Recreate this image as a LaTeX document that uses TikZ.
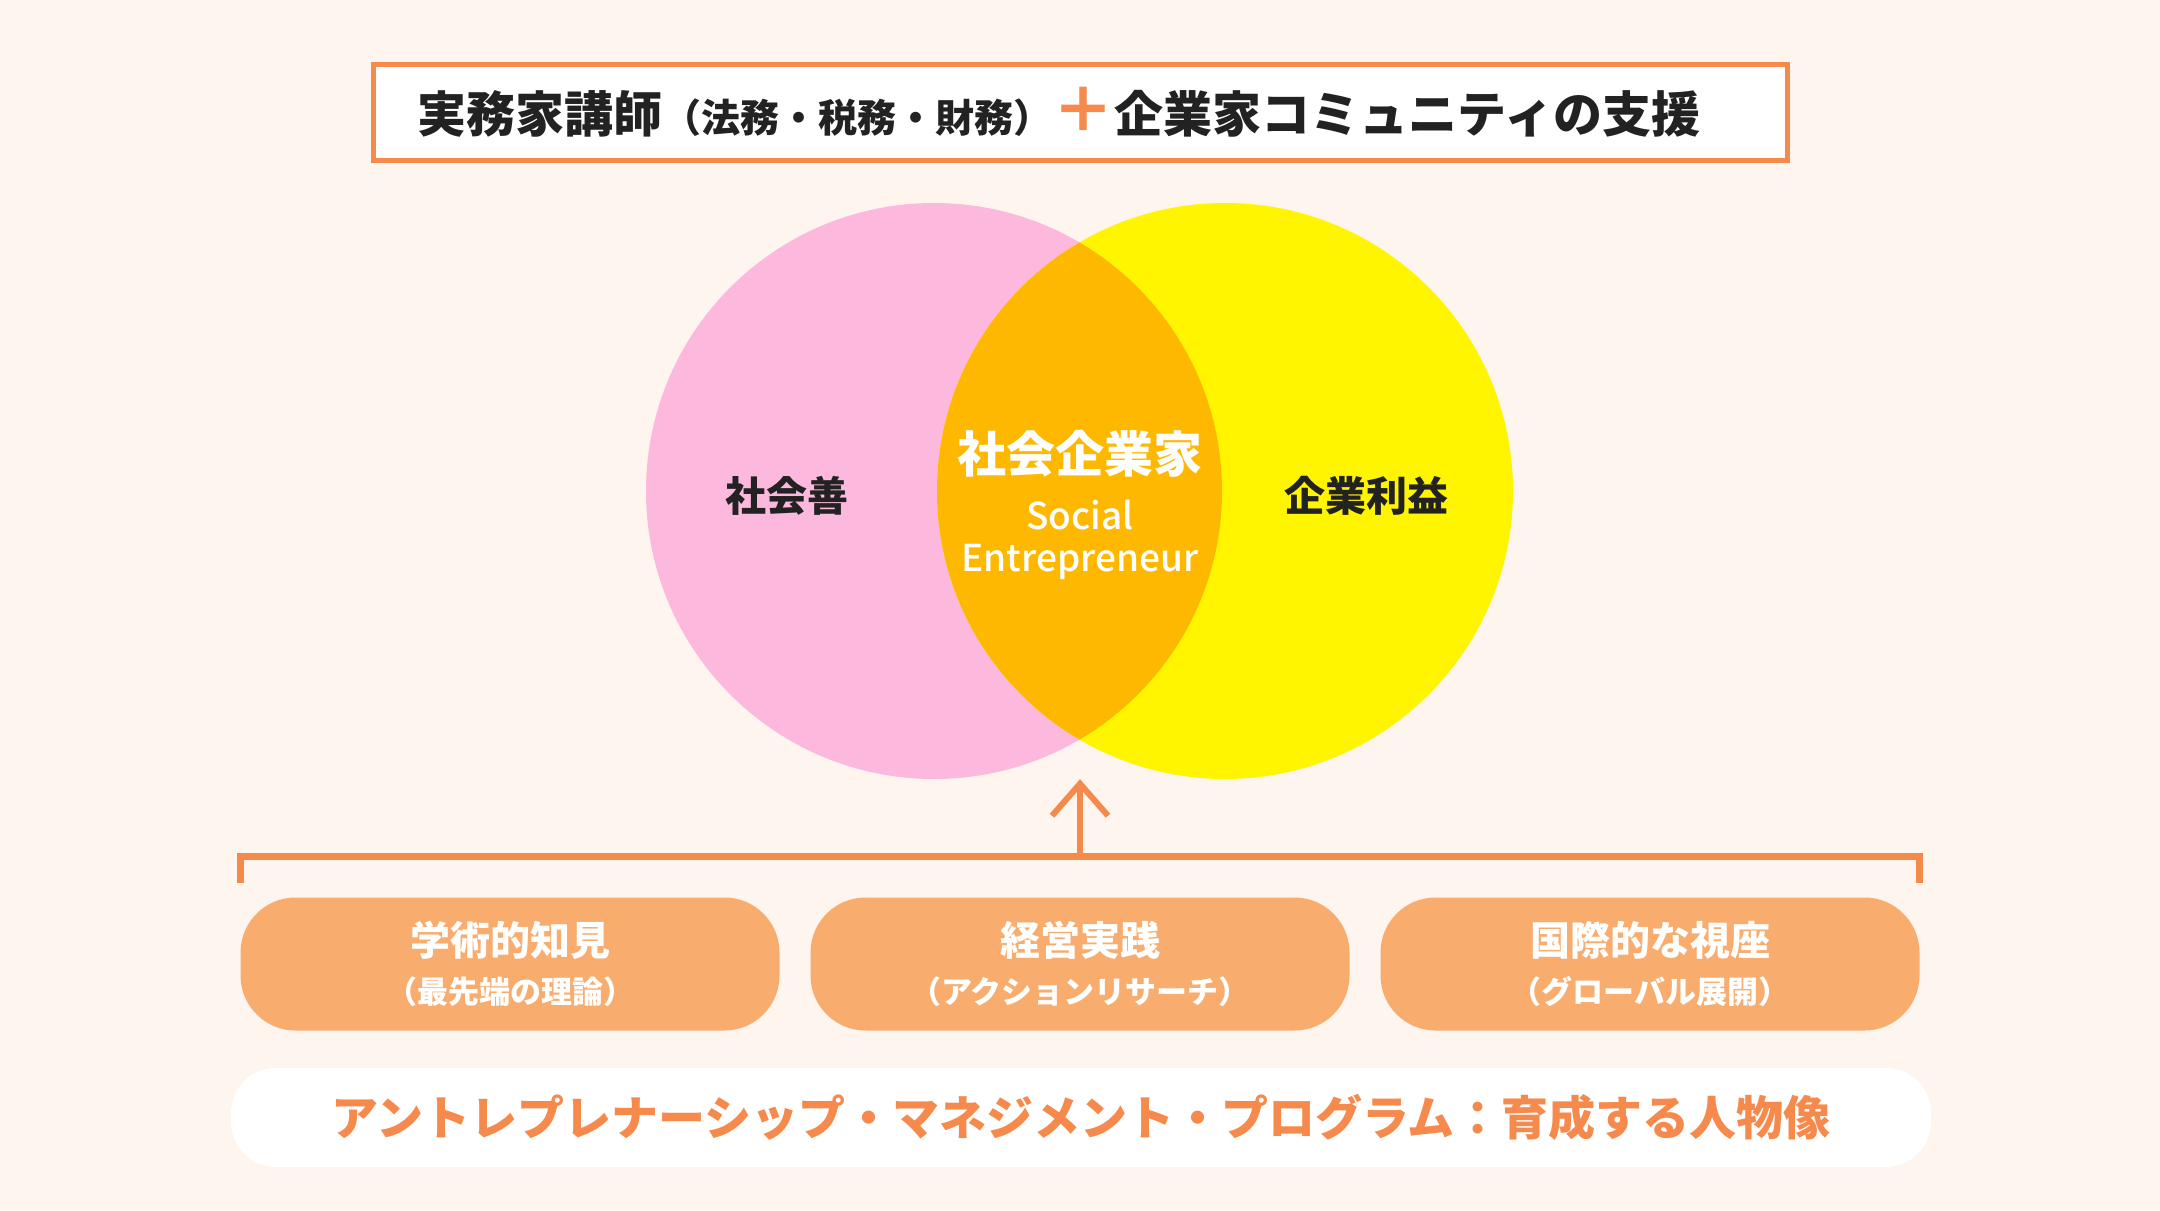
\documentclass[tikz,border=0pt]{standalone}
\usepackage{fontspec}
\setmainfont{Noto Sans CJK JP}
\newfontfamily\medfont{Noto Sans CJK JP Medium}
\usetikzlibrary{arrows.meta}
\definecolor{bgc}{HTML}{FDF5EE}
\definecolor{linec}{HTML}{F58A4C}
\definecolor{pillc}{HTML}{F8AC6D}
\definecolor{pinkc}{HTML}{FDB8DD}
\definecolor{yelc}{HTML}{FFF500}
\definecolor{ovc}{HTML}{FFB800}
\definecolor{inkc}{HTML}{222222}
\begin{document}
\begin{tikzpicture}[x=1pt, y=-1pt, node distance=570pt,
  pill/.style={fill=pillc, rounded corners=55pt, minimum width=539pt, minimum height=133pt, inner sep=0pt, text=white, align=center, font=\bfseries\fontsize{31}{48}\selectfont},
  venn/.style={circle, minimum size=576pt, inner sep=0pt},
  lbl/.style={text=inkc, font=\bfseries\fontsize{41}{48}\selectfont},
  link/.style={draw=linec, line width=7pt}]
\fill[bgc] (0,0) rectangle (2160,1210);
\useasboundingbox (0,0) rectangle (2160,1210);
% title
\node (0) [draw=linec, line width=5pt, fill=white, minimum width=1414pt, minimum height=96pt, inner sep=0pt] at (1080,112.5) {};
\node (t) [text=inkc, font=\bfseries\fontsize{49}{56}\selectfont, inner sep=0pt] at (1059,112) {実務家講師{\fontsize{39}{44}\selectfont （法務・税務・財務）}{\color{linec}\fontsize{62}{70}\selectfont ＋}企業家コミュニティの支援};
% venn
\node (1) [venn, fill=pinkc] at (934,491) {};
\node (2) [venn, fill=yelc, node distance=291pt, right of=1] {};
\begin{scope}
\clip (1.center) circle [radius=288];
\fill[ovc] (2.center) circle [radius=288];
\end{scope}
\node (3) [lbl] at (787,496) {社会善};
\node (4) [lbl] at (1366,496) {企業利益};
\node (5) [text=white, font=\bfseries\fontsize{49}{58}\selectfont] at (1080,454) {社会企業家};
\node (6) [text=white, align=center, font=\medfont\fontsize{37}{42}\selectfont] at (1080,540) {Social\\Entrepreneur};
% pills
\node (7) [pill] at (510,964) {{\fontsize{40}{48}\selectfont 学術的知見}\\（最先端の理論）};
\node (8) [pill, right of=7] {{\fontsize{40}{48}\selectfont 経営実践}\\（アクションリサーチ）};
\node (9) [pill, right of=8] {{\fontsize{40}{48}\selectfont 国際的な視座}\\（グローバル展開）};
% bracket + arrow
\draw[link] ([yshift=14pt]7.north west) |- ([yshift=41pt]9.north east) -- ([yshift=14pt]9.north east);
\coordinate (10) at ([yshift=41pt]8.north);
\draw[link, line width=6pt, -{Straight Barb[length=32pt, width=56pt]}] (10) -- (10 |- 1.south);
% banner
\node (11) [fill=white, rounded corners=45pt, minimum width=1700pt, minimum height=99pt, text=linec, font=\bfseries\fontsize{47}{56}\selectfont] at (1081,1117.5) {アントレプレナーシップ・マネジメント・プログラム：育成する人物像};
\end{tikzpicture}
\end{document}
